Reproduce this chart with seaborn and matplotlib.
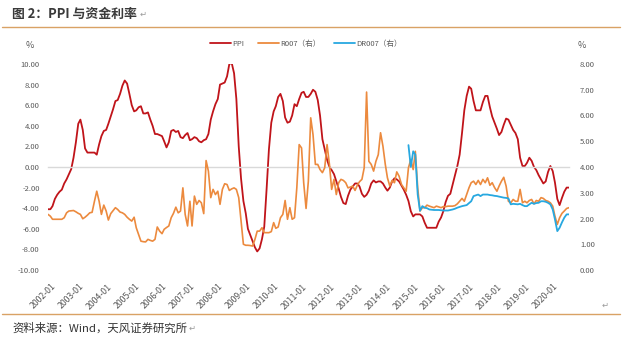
import numpy as np
import pandas as pd
import matplotlib
matplotlib.use("Agg")
import matplotlib.pyplot as plt
import matplotlib.transforms as mtransforms
from matplotlib.lines import Line2D
from matplotlib.ticker import FormatStrFormatter
import seaborn as sns

# ---------------- data (monthly, from 2002-01) ----------------
ppi = [
    -4.1, -4.1, -3.8, -3.1, -2.7, -2.4, -2.2, -1.6, -1.2, -0.7, -0.2, 0.9,   # 2002
    2.4, 4.2, 4.6, 3.6, 1.8, 1.4, 1.4, 1.4, 1.4, 1.2, 2.2, 3.0,             # 2003
    3.5, 3.6, 4.2, 4.9, 5.6, 6.4, 6.5, 7.1, 7.9, 8.4, 8.1, 7.1,             # 2004
    6.0, 5.4, 5.5, 5.8, 5.9, 5.2, 5.2, 5.3, 4.6, 4.0, 3.2, 3.2,             # 2005
    3.1, 3.0, 2.5, 1.9, 2.4, 3.5, 3.6, 3.4, 3.5, 2.9, 2.8, 3.1,             # 2006
    3.3, 2.6, 2.7, 2.9, 2.8, 2.5, 2.4, 2.6, 2.7, 3.2, 4.6, 5.4,             # 2007
    6.1, 6.6, 8.0, 8.1, 8.2, 8.8, 10.0, 10.1, 9.1, 6.6, 2.0, -1.1,          # 2008
    -3.3, -4.5, -6.0, -6.6, -7.2, -7.8, -8.2, -7.9, -7.0, -5.8, -2.1, 1.7,  # 2009
    4.3, 5.4, 5.9, 6.8, 7.1, 6.4, 4.8, 4.3, 4.4, 5.0, 6.1, 5.9,             # 2010
    6.6, 7.2, 7.3, 6.8, 6.8, 7.1, 7.5, 7.3, 6.5, 5.0, 2.7, 1.7,             # 2011
    0.7, 0.0, -0.3, -0.7, -1.4, -2.1, -2.9, -3.5, -3.6, -2.8, -2.2, -1.9,   # 2012
    -1.6, -1.6, -1.9, -2.6, -2.9, -2.7, -2.3, -1.6, -1.3, -1.5, -1.4, -1.4, # 2013
    -1.6, -2.0, -2.3, -2.0, -1.4, -1.1, -1.2, -1.4, -1.8, -2.2, -2.7, -3.3, # 2014
    -4.3, -4.8, -4.6, -4.6, -4.6, -4.8, -5.4, -5.9, -5.9, -5.9, -5.9, -5.9, # 2015
    -5.3, -4.9, -4.3, -3.4, -2.8, -2.6, -1.7, -0.8, 0.1, 1.2, 3.3, 5.5,     # 2016
    6.9, 7.8, 7.6, 6.4, 5.5, 5.5, 5.5, 6.3, 6.9, 6.9, 5.8, 4.9,             # 2017
    4.3, 3.7, 3.1, 3.4, 4.1, 4.7, 4.6, 4.1, 3.6, 3.3, 2.7, 0.9,             # 2018
    0.1, 0.1, 0.4, 0.9, 0.6, 0.0, -0.3, -0.8, -1.2, -1.6, -1.4, -0.5,       # 2019
    0.1, -0.4, -1.5, -3.1, -3.7, -3.0, -2.4, -2.0, -2.0,                    # 2020
]

r007 = [
    2.16, 2.09, 1.97, 1.97, 1.97, 1.97, 1.97, 2.03, 2.22, 2.29, 2.30, 2.31,  # 2002
    2.26, 2.20, 2.16, 1.99, 2.05, 2.13, 2.22, 2.24, 2.67, 3.06, 2.67, 2.16,  # 2003
    2.52, 2.29, 1.94, 2.19, 2.30, 2.42, 2.35, 2.25, 2.22, 2.16, 2.05, 1.97,  # 2004
    1.90, 2.05, 1.64, 1.38, 1.12, 1.10, 1.09, 1.19, 1.15, 1.12, 1.19, 1.67,  # 2005
    1.51, 1.41, 1.58, 1.65, 1.71, 2.03, 2.20, 2.44, 2.22, 2.29, 3.19, 2.16,  # 2006
    1.71, 2.67, 1.71, 2.87, 2.55, 2.70, 2.61, 2.19, 4.25, 3.84, 2.81, 3.13,  # 2007
    2.93, 3.06, 2.55, 3.13, 3.35, 3.32, 3.09, 3.15, 3.19, 3.13, 2.81, 1.90,  # 2008
    1.00, 0.96, 0.96, 0.95, 0.93, 1.19, 1.51, 1.51, 1.64, 1.45, 1.45, 1.45,  # 2009
    1.49, 1.84, 1.62, 1.67, 2.03, 2.16, 2.70, 1.97, 2.42, 1.97, 2.03, 3.19,  # 2010
    4.87, 4.74, 3.39, 2.39, 3.45, 5.91, 5.26, 4.10, 4.10, 3.90, 3.78, 3.97,  # 2011
    4.87, 4.10, 3.13, 3.52, 2.93, 3.39, 3.52, 3.48, 3.39, 3.19, 3.22, 3.26,  # 2012
    3.09, 3.30, 3.43, 3.52, 3.97, 6.91, 4.22, 4.10, 3.84, 4.22, 4.48, 5.33,  # 2013
    4.81, 4.10, 3.58, 3.26, 3.48, 3.39, 3.81, 3.64, 3.32, 3.19, 3.06, 3.97,  # 2014
    4.29, 3.90, 4.61, 3.19, 2.29, 2.42, 2.42, 2.52, 2.48, 2.45, 2.42, 2.48,  # 2015
    2.45, 2.42, 2.46, 2.46, 2.48, 2.48, 2.48, 2.50, 2.57, 2.67, 2.78, 2.67,  # 2016
    2.93, 3.20, 3.39, 3.45, 3.32, 3.48, 3.32, 3.52, 3.39, 3.58, 3.29, 3.39,  # 2017
    3.20, 3.06, 3.26, 3.45, 3.60, 3.26, 2.67, 2.61, 2.74, 2.67, 2.67, 3.13,  # 2018
    2.61, 2.67, 2.61, 2.70, 2.74, 2.57, 2.70, 2.67, 2.81, 2.78, 2.70, 2.67,  # 2019
    2.61, 2.48, 2.09, 1.77, 2.03, 2.20, 2.29, 2.39, 2.42,                    # 2020
]

# DR007 monthly, from 2014-12
dr007 = [
    4.85, 4.00, 4.61, 4.48, 2.93, 2.30, 2.48, 2.42, 2.40, 2.35, 2.34, 2.33,
    2.33, 2.33, 2.32, 2.31, 2.31, 2.31, 2.33, 2.35, 2.38, 2.42, 2.45, 2.48,
    2.50, 2.52, 2.60, 2.67, 2.87, 2.90, 2.93, 2.87, 2.93, 2.93, 2.93, 2.91,
    2.90, 2.88, 2.87, 2.85, 2.83, 2.81, 2.80, 2.78, 2.55, 2.57, 2.56, 2.55,
    2.57, 2.52, 2.48, 2.48, 2.55, 2.61, 2.57, 2.60, 2.61, 2.67, 2.67, 2.65,
    2.61, 2.55, 2.35, 1.97, 1.51, 1.64, 1.85, 2.03, 2.16, 2.16,
]

series_labels = ["PPI", "R007（右）", "DR007（右）"]
left_ticks = list(range(-10, 11, 2))
right_ticks = list(range(0, 9, 1))
tick_years = list(range(2002, 2021))
title = "图 2：PPI 与资金利率"
source = "资料来源：Wind，天风证券研究所"

dates = pd.date_range("2002-01-01", periods=len(ppi), freq="MS")
dr_dates = pd.date_range("2014-12-01", periods=len(dr007), freq="MS")

# ---------------- style ----------------
sns.set_theme(style="white")
plt.rcParams["font.family"] = ["Noto Sans CJK SC", "DejaVu Sans"]

RED = "#C0141A"
ORANGE = "#EC8A3E"
BLUE = "#27A8E0"
TXT = "#595959"
RULE = "#D9A265"

W, H = 643, 348
fig = plt.figure(figsize=(W / 100, H / 100), dpi=100)
fig.patch.set_facecolor("white")


def fx(px):
    return px / W


def fy(py):
    return 1 - py / H


ax = fig.add_axes([fx(48), fy(270), fx(569) - fx(48), fy(64) - fy(270)])
ax2 = ax.twinx()

sns.lineplot(x=dates, y=ppi, ax=ax, color=RED, lw=1.3, legend=False)
sns.lineplot(x=dates, y=r007, ax=ax2, color=ORANGE, lw=1.2, legend=False)
sns.lineplot(x=dr_dates, y=dr007, ax=ax2, color=BLUE, lw=1.3, legend=False)

ax.set_xlim(dates[0], dates[-1])
ax.set_ylim(-10, 10)
ax2.set_ylim(0, 8)
ax.set_xlabel("")
ax.set_ylabel("")
ax2.set_ylabel("")

ax.set_yticks(left_ticks)
ax2.set_yticks(right_ticks)
ax.yaxis.set_major_formatter(FormatStrFormatter("%.2f"))
ax2.yaxis.set_major_formatter(FormatStrFormatter("%.2f"))
ax.tick_params(axis="y", length=0, pad=6, labelsize=5.5, labelcolor=TXT)
ax2.tick_params(axis="y", length=0, pad=8, labelsize=5.5, labelcolor=TXT)

for s in ["top", "left", "right"]:
    ax.spines[s].set_visible(False)
for s in ax2.spines.values():
    s.set_visible(False)
ax.spines["bottom"].set_position(("data", 0))
ax.spines["bottom"].set_color("#D9D9D9")
ax.spines["bottom"].set_linewidth(1.0)

xt = pd.to_datetime([f"{y}-01-01" for y in tick_years])
ax.set_xticks(xt)
ax.tick_params(axis="x", length=3, width=0.8, color="#D9D9D9",
               labelbottom=False, direction="out")
trans = mtransforms.blended_transform_factory(ax.transData, ax.transAxes)
offset = mtransforms.ScaledTranslation(3 / 100, 0, fig.dpi_scale_trans)
for d in xt:
    ax.text(d, -0.058, d.strftime("%Y-%m"), transform=trans + offset,
            rotation=45, ha="right", va="top", rotation_mode="anchor",
            fontsize=6.3, color=TXT)

ax.grid(False)
ax2.grid(False)

# % unit labels
fig.text(fx(30), fy(46), "%", fontsize=6.5, color=TXT, ha="center", va="center")
fig.text(fx(582), fy(45), "%", fontsize=6.5, color=TXT, ha="center", va="center")

# legend
handles = [Line2D([], [], color=RED, lw=1.3),
           Line2D([], [], color=ORANGE, lw=1.3),
           Line2D([], [], color=BLUE, lw=1.3)]
fig.legend(handles, series_labels, loc="center",
           bbox_to_anchor=(fx(306), fy(44)), ncol=3, frameon=False,
           fontsize=5.5, labelcolor=TXT, handlelength=2.7,
           handletextpad=0.2, columnspacing=1.8)

# title, rules, source
fig.text(fx(12), fy(14), title, fontsize=9.3, fontweight="bold",
         color="#3A3A3A", ha="left", va="center")
fig.text(fx(140), fy(14), "↵", fontsize=6, color="#9A9A9A",
         ha="left", va="center", family=["DejaVu Sans"])
fig.add_artist(Line2D([fx(2), fx(620)], [fy(27), fy(27)], color=RULE,
                      lw=1.0, transform=fig.transFigure))
fig.add_artist(Line2D([fx(2), fx(620)], [fy(314), fy(314)], color=RULE,
                      lw=1.0, transform=fig.transFigure))
fig.text(fx(605), fy(305), "↵", fontsize=6, color="#9A9A9A",
         ha="center", va="center", family=["DejaVu Sans"])
fig.text(fx(12), fy(328), source, fontsize=8.2, color="#333333",
         ha="left", va="center")
fig.text(fx(189), fy(328), "↵", fontsize=6, color="#9A9A9A",
         ha="left", va="center", family=["DejaVu Sans"])

fig.savefig("out.png", dpi=100, facecolor="white")
